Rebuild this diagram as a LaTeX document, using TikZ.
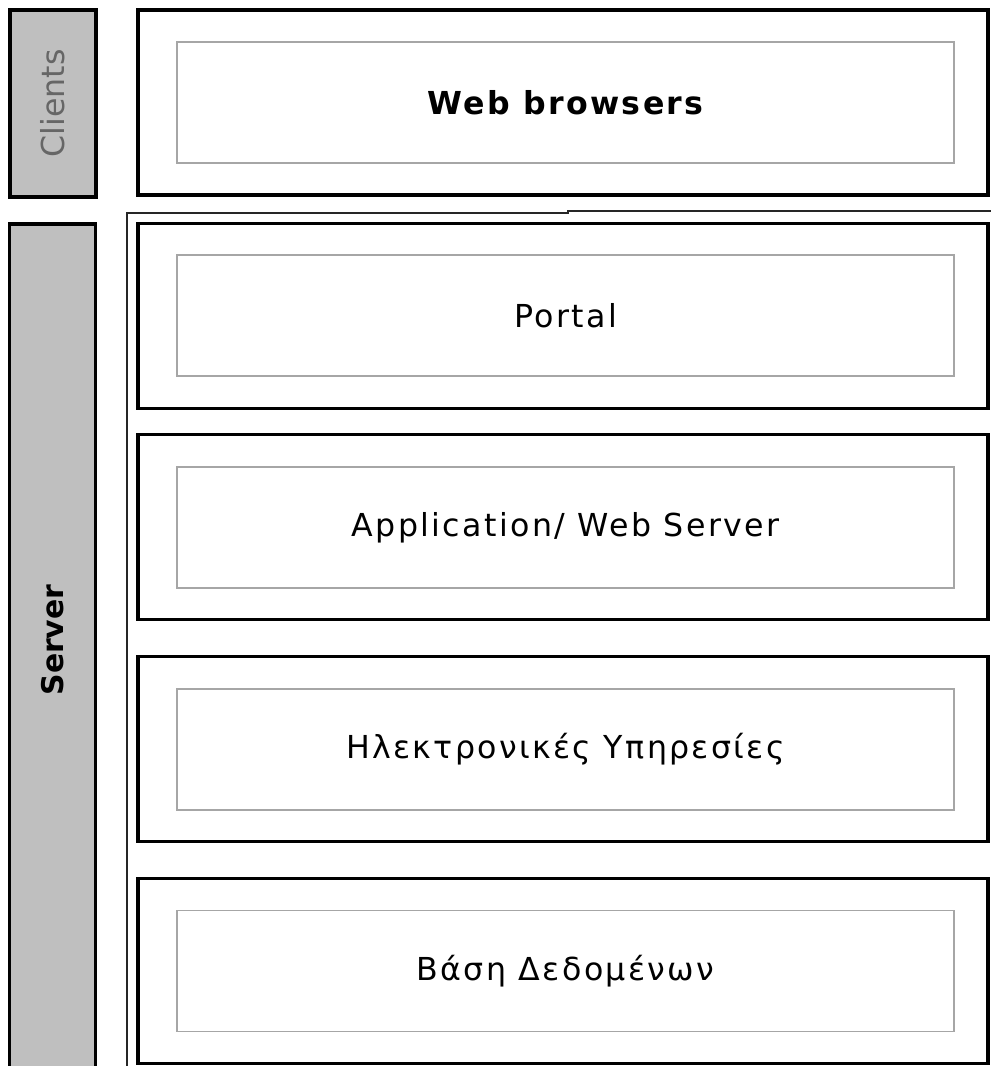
\documentclass[tikz,border=0pt]{standalone}
\usepackage{fontspec}
\setmainfont{DejaVu Sans}
\newfontfamily\tierfont[LetterSpace=7.5]{DejaVu Sans}
\begin{document}
\begin{tikzpicture}[x=0.02cm, y=-0.02cm]
\tikzset{
  tierbox/.style={draw=black, line width=2pt, minimum width=17cm, minimum height=3.7cm, inner sep=0pt},
  innerbox/.style={draw=gray!70, line width=0.8pt, minimum width=15.54cm, minimum height=2.42cm, inner sep=0pt, font=\tierfont\fontsize{18}{22}\selectfont},
  sidebox/.style={draw=black, line width=2pt, fill=black!25, minimum width=1.72cm, inner sep=0pt}
}
\useasboundingbox (0,0) rectangle (991,1066);
% side labels
\node[sidebox, minimum height=3.74cm] (clients) at (53,103.5) {};
\node[rotate=90, text=black!60, font=\fontsize{18}{22}\selectfont] (clientslbl) at (53,103.5) {Clients};
\node[sidebox, minimum height=17.12cm] (server) at (52.5,652) {};
\node[rotate=90, font=\fontsize{17}{21}\selectfont\bfseries] (serverlbl) at (52.5,640) {Server};
% thin frame of the server side
\draw[line width=0.7pt, draw=black!85] (127,1080) -- (127,213) -- (568,213) -- (568,211) -- (995,211);
% tiers
\node[tierbox] (webout) at (563,102.5) {};
\node[innerbox, font=\tierfont\fontsize{18}{22}\selectfont\bfseries] (web) at (565.5,102.5) {Web browsers};
\node[tierbox] (portalout) at (563,316) {};
\node[innerbox] (portal) at (565.5,315.5) {Portal};
\node[tierbox] (appout) at (563,527) {};
\node[innerbox] (app) at (565.5,527.5) {Application/ Web Server};
\node[tierbox] (wsout) at (563,749) {};
\node[innerbox] (ws) at (565.5,749.5) {Ηλεκτρονικές Υπηρεσίες};
\node[tierbox] (dbout) at (563,971) {};
\node[innerbox] (db) at (565.5,971) {Βάση Δεδομένων};
\end{tikzpicture}
\end{document}
